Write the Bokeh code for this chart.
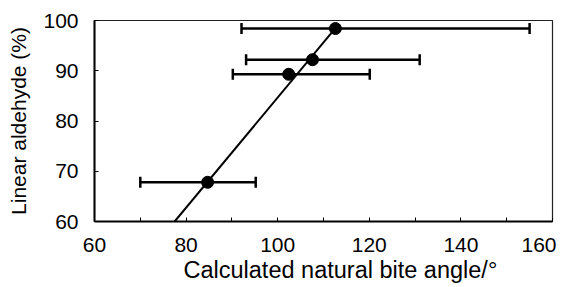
from bokeh.plotting import figure
from bokeh.models import Range1d, FixedTicker, Whisker, ColumnDataSource, TeeHead, Title
from bokeh.embed import file_html
from bokeh.resources import INLINE

# data
bite_angle = [112.6, 107.6, 102.4, 84.7]
linear_pct = [98.4, 92.2, 89.3, 67.8]
err_low = [92.1, 93.1, 90.2, 70.0]
err_high = [155.0, 131.0, 120.1, 95.2]
fit_x = [77.5, 112.6]
fit_y = [60.0, 98.5]
x_ticks = [60, 80, 100, 120, 140, 160]
x_minor = [70, 90, 110, 130, 150]
y_ticks = [60, 70, 80, 90, 100]
x_title = "Calculated natural bite angle/°"
y_title = "Linear aldehyde (%)"

FONT = "Liberation Sans"

p = figure(width=556, height=284, output_backend="svg", toolbar_location=None,
           x_range=Range1d(60, 160), y_range=Range1d(60, 100),
           min_border_left=94, min_border_right=4, min_border_top=20, min_border_bottom=63)
p.grid.visible = False
p.background_fill_color = "white"
p.border_fill_color = "white"
p.outline_line_color = "#222222"
p.outline_line_width = 1.2

for ax in (p.xaxis[0], p.yaxis[0]):
    ax.axis_line_width = 2
    ax.axis_line_color = "black"
    ax.major_tick_in = 4
    ax.major_tick_out = 0
    ax.minor_tick_in = 4
    ax.minor_tick_out = 0
    ax.major_tick_line_color = "black"
    ax.minor_tick_line_color = "black"
    ax.major_label_text_font = FONT
    ax.major_label_text_font_size = "21px"
    ax.major_label_text_color = "black"
    ax.axis_label_text_font = FONT
    ax.axis_label_text_font_style = "normal"
    ax.axis_label_text_color = "black"

p.yaxis.axis_label_text_font_size = "21px"
p.xaxis.ticker = FixedTicker(ticks=x_ticks, minor_ticks=x_minor)
p.yaxis.ticker = FixedTicker(ticks=y_ticks)
p.xaxis.major_label_standoff = 16
p.yaxis.major_label_standoff = 16
p.yaxis.axis_label = y_title
p.yaxis.axis_label_standoff = 10

xt = Title(text=x_title, align="left", offset=89, standoff=0,
           text_font=FONT, text_font_size="23.5px", text_font_style="normal",
           text_color="black")
p.add_layout(xt, "below")

src = ColumnDataSource(dict(x=bite_angle, y=linear_pct, lo=err_low, hi=err_high))
w = Whisker(source=src, base="y", lower="lo", upper="hi", dimension="width",
            line_color="black", line_width=2.5,
            lower_head=TeeHead(size=11, line_width=2.5, line_color="black"),
            upper_head=TeeHead(size=11, line_width=2.5, line_color="black"))
p.add_layout(w)

p.line(fit_x, fit_y, line_color="black", line_width=2)
p.scatter("x", "y", source=src, size=12, color="black")

open("out.html", "w").write(file_html(p, INLINE))
